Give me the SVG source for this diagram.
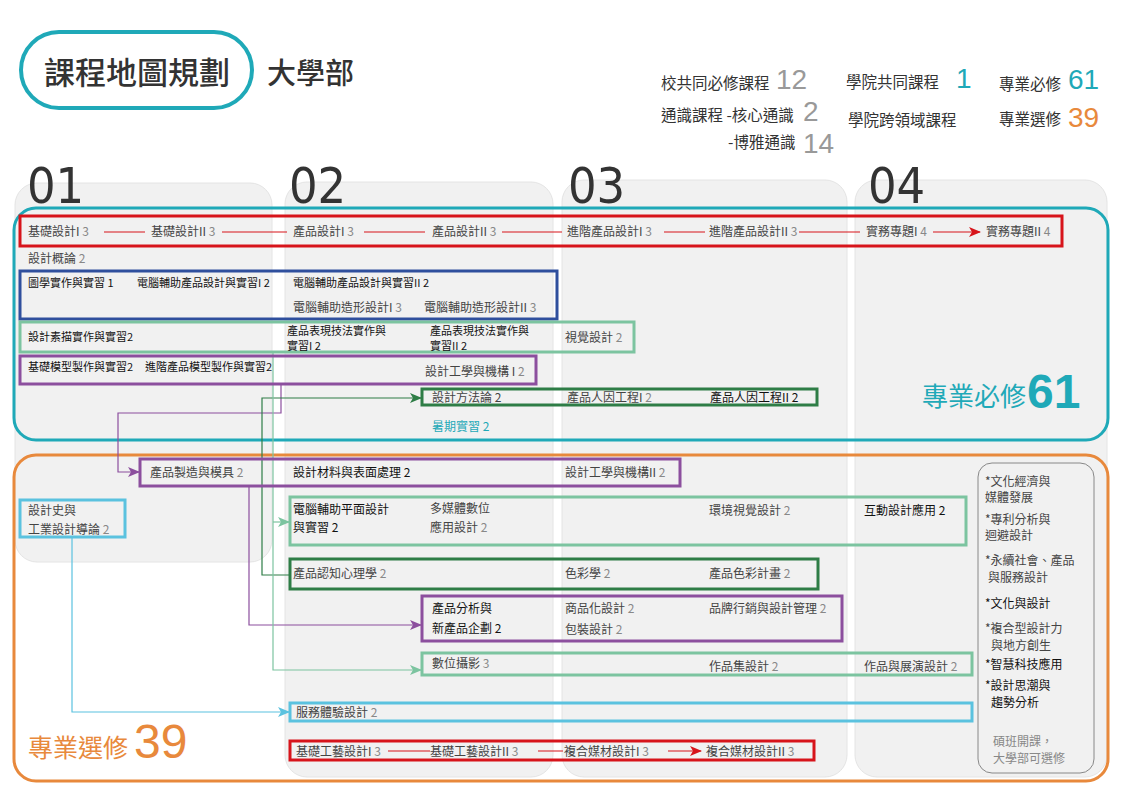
<svg xmlns="http://www.w3.org/2000/svg" width="1123" height="794" viewBox="0 0 1123 794">
<defs>
<style>
.t{font-family:"Noto Sans CJK TC","Noto Sans",sans-serif;font-size:12px;fill:#444}
.s{font-size:11px;fill:#111}
.k{fill:#111}
.n{fill:#888}
.box{fill:none;stroke-width:3}
.panel{fill:#f1f1f1;stroke:#e4e4e4;stroke-width:1}
.num{font-family:"Liberation Sans","Noto Sans",sans-serif}
.col{font-family:"Liberation Sans Narrow","DejaVu Sans Condensed",sans-serif;font-size:50px;fill:#333}
.red{stroke:#d7141b;stroke-width:1.2;fill:none}
</style>
<marker id="aR" viewBox="0 0 12 10" refX="11" refY="5" markerWidth="12" markerHeight="10" markerUnits="userSpaceOnUse" orient="auto"><path d="M0,0 L12,5 L0,10 L3,5 Z" fill="#d7141b"/></marker>
<marker id="aP" viewBox="0 0 12 10" refX="11" refY="5" markerWidth="12" markerHeight="10" markerUnits="userSpaceOnUse" orient="auto"><path d="M0,0 L12,5 L0,10 L3,5 Z" fill="#8c4f9e"/></marker>
<marker id="aG" viewBox="0 0 12 10" refX="11" refY="5" markerWidth="12" markerHeight="10" markerUnits="userSpaceOnUse" orient="auto"><path d="M0,0 L12,5 L0,10 L3,5 Z" fill="#2e7d46"/></marker>
<marker id="aL" viewBox="0 0 12 10" refX="11" refY="5" markerWidth="12" markerHeight="10" markerUnits="userSpaceOnUse" orient="auto"><path d="M0,0 L12,5 L0,10 L3,5 Z" fill="#7cc4a0"/></marker>
<marker id="aC" viewBox="0 0 12 10" refX="11" refY="5" markerWidth="12" markerHeight="10" markerUnits="userSpaceOnUse" orient="auto"><path d="M0,0 L12,5 L0,10 L3,5 Z" fill="#5bc2df"/></marker>
</defs>
<rect width="1123" height="794" fill="#ffffff"/>

<g id="header">
<rect x="21" y="32" width="231" height="76" rx="38" fill="#fff" stroke="#1fa9b8" stroke-width="4"/>
<text x="44" y="84" class="t" style="font-size:31px;fill:#333;font-weight:500">課程地圖規劃</text>
<text x="267" y="84" class="t" style="font-size:29px;fill:#333;font-weight:500">大學部</text>
</g>

<g id="stats">
<text x="661" y="89" class="t" style="font-size:15.5px;fill:#333">校共同必修課程</text>
<text x="776" y="89" class="num" style="font-size:28px;fill:#999">12</text>
<text x="846" y="88" class="t" style="font-size:15.5px;fill:#333">學院共同課程</text>
<text x="956" y="88" class="num" style="font-size:28px;fill:#1fa9b8">1</text>
<text x="999" y="90" class="t" style="font-size:15.5px;fill:#333">專業必修</text>
<text x="1068" y="89" class="num" style="font-size:28px;fill:#1fa9b8">61</text>
<text x="661" y="121" class="t" style="font-size:15.5px;fill:#333">通識課程 -核心通識</text>
<text x="803" y="121" class="num" style="font-size:28px;fill:#999">2</text>
<text x="848" y="126" class="t" style="font-size:15.5px;fill:#333">學院跨領域課程</text>
<text x="999" y="125" class="t" style="font-size:15.5px;fill:#333">專業選修</text>
<text x="1068" y="127" class="num" style="font-size:28px;fill:#e8893c">39</text>
<text x="728" y="148" class="t" style="font-size:15.5px;fill:#333">-博雅通識</text>
<text x="803" y="152.5" class="num" style="font-size:28px;fill:#999">14</text>
</g>

<g id="columns">
<rect class="panel" x="15" y="183" width="257" height="379" rx="22"/>
<rect class="panel" x="285" y="182" width="268" height="595" rx="22"/>
<rect class="panel" x="562" y="180" width="285" height="597" rx="22"/>
<rect class="panel" x="855" y="180" width="252" height="597" rx="22"/>
<text x="27" y="203" class="col">01</text>
<text x="289" y="203" class="col">02</text>
<text x="568" y="203" class="col">03</text>
<text x="868" y="203" class="col">04</text>
</g>

<g id="required">
<rect x="14" y="208" width="1094" height="232" rx="22" fill="none" stroke="#1fa9b8" stroke-width="3"/>
<text x="922" y="406" class="t" style="font-size:26px;fill:#1fa9b8">專業必修</text>
<text x="1027" y="408" class="num" style="font-size:48px;font-weight:bold;fill:#1fa9b8">61</text>
</g>
<g id="elective">
<rect x="14" y="455" width="1094" height="326" rx="22" fill="none" stroke="#e8893c" stroke-width="3"/>
<text x="28" y="757" class="t" style="font-size:25px;fill:#e8893c">專業選修</text>
<text x="134" y="758" class="num" style="font-size:48px;fill:#e8893c">39</text>
</g>

<g id="connectors">
<path class="red" d="M104,232 H145 M222,232 H287 M364,232 H425 M502,232 H562 M664,232 H705 M799,232 H860"/>
<path class="red" d="M933,232 H980" marker-end="url(#aR)"/>
<path class="red" d="M388,751 H430 M538,751 H563"/>
<path class="red" d="M668,751 H701" marker-end="url(#aR)"/>
<path d="M281,384 V413 H118 V472 H139" fill="none" stroke="#8c4f9e" stroke-width="1.2" marker-end="url(#aP)"/>
<path d="M249,486 V625 H421" fill="none" stroke="#8c4f9e" stroke-width="1.2" marker-end="url(#aP)"/>
<path d="M290,575 H262 V398 H421" fill="none" stroke="#2e7d46" stroke-width="1.2" marker-end="url(#aG)"/>
<path d="M273,352 V670 H421" fill="none" stroke="#7cc4a0" stroke-width="1.2" marker-end="url(#aL)"/>
<path d="M273,522 H289" fill="none" stroke="#7cc4a0" stroke-width="1.2" marker-end="url(#aL)"/>
<path d="M72,537 V712 H289" fill="none" stroke="#5bc2df" stroke-width="1.2" marker-end="url(#aC)"/>
</g>

<g id="n-design-basic">
<rect class="box" x="20" y="216" width="1042" height="30" stroke="#d7141b"/>
<text x="28" y="236" class="t">基礎設計I<tspan class="n"> 3</tspan></text>
<text x="151" y="236" class="t">基礎設計II<tspan class="n"> 3</tspan></text>
<text x="293" y="236" class="t">產品設計I<tspan class="n"> 3</tspan></text>
<text x="432" y="236" class="t">產品設計II<tspan class="n"> 3</tspan></text>
<text x="567" y="236" class="t">進階產品設計I<tspan class="n"> 3</tspan></text>
<text x="709" y="236" class="t">進階產品設計II<tspan class="n"> 3</tspan></text>
<text x="866" y="236" class="t">實務專題I<tspan class="n"> 4</tspan></text>
<text x="986" y="236" class="t">實務專題II<tspan class="n"> 4</tspan></text>
</g>
<g id="n-intro">
<text x="28" y="263" class="t">設計概論<tspan class="n"> 2</tspan></text>
</g>
<g id="n-cad">
<rect class="box" x="20" y="271" width="537" height="48" stroke="#2f4f9d"/>
<text x="28" y="287" class="t s">圖學實作與實習 1</text>
<text x="137" y="287" class="t s">電腦輔助產品設計與實習I 2</text>
<text x="293" y="287" class="t s">電腦輔助產品設計與實習II 2</text>
<text x="293" y="312" class="t">電腦輔助造形設計I<tspan class="n"> 3</tspan></text>
<text x="424" y="312" class="t">電腦輔助造形設計II<tspan class="n"> 3</tspan></text>
</g>
<g id="n-drawing">
<rect class="box" x="20" y="322" width="614" height="30" stroke="#7cc4a0"/>
<text x="28" y="341" class="t s">設計素描實作與實習2</text>
<text x="287" y="335" class="t s">產品表現技法實作與</text>
<text x="287" y="350" class="t s">實習I 2</text>
<text x="430" y="335" class="t s">產品表現技法實作與</text>
<text x="430" y="350" class="t s">實習II 2</text>
<text x="565" y="342" class="t">視覺設計<tspan class="n"> 2</tspan></text>
</g>
<g id="n-model">
<rect class="box" x="20" y="356" width="516" height="28" stroke="#8c4f9e"/>
<text x="28" y="371" class="t s">基礎模型製作與實習2</text>
<text x="145" y="371" class="t s">進階產品模型製作與實習2</text>
<text x="425" y="376" class="t">設計工學與機構 I<tspan class="n"> 2</tspan></text>
</g>
<g id="n-method">
<rect class="box" x="422" y="389" width="395" height="16" stroke="#2e7d46"/>
<text x="432" y="402" class="t">設計方法論 2</text>
<text x="567" y="402" class="t">產品人因工程I<tspan class="n"> 2</tspan></text>
<text x="710" y="402" class="t k">產品人因工程II 2</text>
</g>
<g id="n-intern">
<text x="432" y="431" class="t" style="fill:#1fa9b8">暑期實習 2</text>
</g>

<g id="n-mfg">
<rect class="box" x="140" y="459" width="540" height="27" stroke="#8c4f9e"/>
<text x="150" y="477" class="t">產品製造與模具<tspan class="n"> 2</tspan></text>
<text x="293" y="477" class="t k">設計材料與表面處理 2</text>
<text x="565" y="477" class="t">設計工學與機構II<tspan class="n"> 2</tspan></text>
</g>
<g id="n-history">
<rect class="box" x="20" y="500" width="105" height="37" stroke="#5bc2df"/>
<text x="28" y="515" class="t">設計史與</text>
<text x="28" y="534" class="t">工業設計導論<tspan class="n"> 2</tspan></text>
</g>
<g id="n-graphic">
<rect class="box" x="290" y="497" width="676" height="48" stroke="#7cc4a0"/>
<text x="293" y="514" class="t k">電腦輔助平面設計</text>
<text x="293" y="532" class="t k">與實習 2</text>
<text x="430" y="513" class="t">多媒體數位</text>
<text x="430" y="532" class="t">應用設計<tspan class="n"> 2</tspan></text>
<text x="709" y="515" class="t">環境視覺設計<tspan class="n"> 2</tspan></text>
<text x="864" y="515" class="t k">互動設計應用 2</text>
</g>
<g id="n-cognition">
<rect class="box" x="290" y="559" width="528" height="30" stroke="#2e7d46"/>
<text x="293" y="578" class="t">產品認知心理學<tspan class="n"> 2</tspan></text>
<text x="565" y="578" class="t">色彩學<tspan class="n"> 2</tspan></text>
<text x="709" y="578" class="t">產品色彩計畫<tspan class="n"> 2</tspan></text>
</g>
<g id="n-planning">
<rect class="box" x="422" y="596" width="420" height="45" stroke="#8c4f9e"/>
<text x="432" y="613" class="t k">產品分析與</text>
<text x="432" y="633" class="t k">新產品企劃 2</text>
<text x="565" y="613" class="t">商品化設計<tspan class="n"> 2</tspan></text>
<text x="565" y="634" class="t">包裝設計<tspan class="n"> 2</tspan></text>
<text x="709" y="613" class="t">品牌行銷與設計管理<tspan class="n"> 2</tspan></text>
</g>
<g id="n-photo">
<rect class="box" x="422" y="653" width="550" height="22" stroke="#7cc4a0"/>
<text x="432" y="668" class="t">數位攝影<tspan class="n"> 3</tspan></text>
<text x="709" y="671" class="t">作品集設計<tspan class="n"> 2</tspan></text>
<text x="864" y="671" class="t">作品與展演設計<tspan class="n"> 2</tspan></text>
</g>
<g id="n-service">
<rect class="box" x="290" y="703" width="682" height="18" stroke="#5bc2df"/>
<text x="296" y="717" class="t">服務體驗設計<tspan class="n"> 2</tspan></text>
</g>
<g id="n-craft">
<rect class="box" x="290" y="741" width="524" height="19" stroke="#d7141b"/>
<text x="296" y="756" class="t">基礎工藝設計I<tspan class="n"> 3</tspan></text>
<text x="430" y="756" class="t">基礎工藝設計II<tspan class="n"> 3</tspan></text>
<text x="564" y="756" class="t">複合媒材設計I<tspan class="n"> 3</tspan></text>
<text x="706" y="756" class="t">複合媒材設計II<tspan class="n"> 3</tspan></text>
</g>
<g id="n-graduate">
<rect x="978" y="463" width="116" height="310" rx="14" fill="none" stroke="#888" stroke-width="1"/>
<text x="985" y="486" class="t">*文化經濟與</text>
<text x="985" y="502" class="t">媒體發展</text>
<text x="985" y="524" class="t">*專利分析與</text>
<text x="985" y="540" class="t">迴避設計</text>
<text x="985" y="565" class="t">*永續社會、產品</text>
<text x="988" y="582" class="t">與服務設計</text>
<text x="985" y="608" class="t k">*文化與設計</text>
<text x="985" y="633" class="t">*複合型設計力</text>
<text x="991" y="650" class="t">與地方創生</text>
<text x="985" y="669" class="t k">*智慧科技應用</text>
<text x="985" y="690" class="t k">*設計思潮與</text>
<text x="991" y="707" class="t k">趨勢分析</text>
<text x="993" y="746" class="t" style="fill:#888">碩班開課，</text>
<text x="993" y="763" class="t" style="fill:#888">大學部可選修</text>
</g>
</svg>
